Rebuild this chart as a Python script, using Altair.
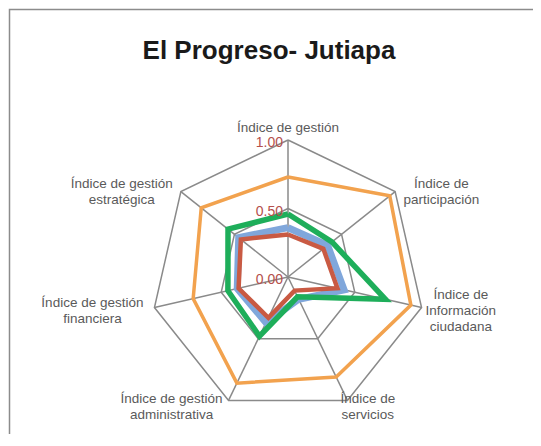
import math
import altair as alt
import pandas as pd

# ---------------- data ----------------
title_text = "El Progreso- Jutiapa"
categories = [
    "Índice de gestión",
    "Índice de participación",
    "Índice de Información ciudadana",
    "Índice de servicios",
    "Índice de gestión administrativa",
    "Índice de gestión financiera",
    "Índice de gestión estratégica",
]
category_labels = [
    "Índice de gestión",
    "Índice de\nparticipación",
    "Índice de\nInformación\nciudadana",
    "Índice de\nservicios",
    "Índice de gestión\nadministrativa",
    "Índice de gestión\nfinanciera",
    "Índice de gestión\nestratégica",
]
series_names = ["Serie naranja", "Serie azul", "Serie roja", "Serie verde"]
orange_values = [0.73, 0.95, 0.92, 0.81, 0.86, 0.71, 0.81]
blue_values = [0.36, 0.37, 0.42, 0.18, 0.37, 0.38, 0.46]
red_values = [0.31, 0.33, 0.37, 0.11, 0.33, 0.37, 0.44]
green_values = [0.46, 0.41, 0.73, 0.16, 0.48, 0.45, 0.56]
tick_values = [0.0, 0.5, 1.0]
tick_labels = ["0.00", "0.50", "1.00"]
grid_levels = [0.5, 1.0]

# ---------------- layout ----------------
W, H = 525, 426
CX, CY, R = 280, 269, 137   # centre (px inside plot) and px per unit
N = len(categories)
LABEL_FS = 13.5
LINE_H = 16
x_dom = [-CX / R, (W - CX) / R]
y_dom = [-(H - CY) / R, CY / R]
xs = alt.Scale(domain=x_dom, range=[0, W], nice=False, zero=False)
ys = alt.Scale(domain=y_dom, range=[H, 0], nice=False, zero=False)

styles = {
    "Serie naranja": ("#F2A24E", 3.5),
    "Serie azul": ("#80A7DB", 7),
    "Serie roja": ("#C95A43", 4.5),
    "Serie verde": ("#1EAE5A", 5.5),
}
values_by_series = dict(zip(series_names, [orange_values, blue_values, red_values, green_values]))

rows = []
for s in series_names:
    vals = values_by_series[s]
    for i in range(N + 1):
        rows.append({"series": s, "idx": i, "value": vals[i % N]})
series_df = pd.DataFrame(rows)

grid_df = pd.DataFrame([{"level": lv, "idx": i} for lv in grid_levels for i in range(N + 1)])
spoke_df = pd.DataFrame({"idx": list(range(N)), "cat": categories})
tick_df = pd.DataFrame({"v": tick_values, "t": tick_labels})

# label anchor offsets derived from angle and estimated text size
lab_rows = []
for i, lab in enumerate(category_labels):
    a = 2 * math.pi * i / N
    s, c = math.sin(a), math.cos(a)
    lines = lab.split("\n")
    hw = max(len(l) for l in lines) * 3.2
    hh = len(lines) * LINE_H / 2
    ox = hw * max(-1, min(1, s / 0.5)) + 6 * s + 8 * min(0, c)
    oy = -c * 4 + 2.5 if abs(s) > 0.1 else -(hh + 4)
    oy -= (len(lines) - 1) * LINE_H / 2   # first-line position for a centred block
    lab_rows.append({"lab": lab, "idx": i, "ox": ox / R, "oy": -oy / R})
label_df = pd.DataFrame(lab_rows)


def polar_chart(df, rcol):
    return alt.Chart(df).transform_calculate(
        ang=f"2*PI*datum.idx/{N}"
    ).transform_calculate(
        px=f"{rcol}*sin(datum.ang)", py=f"{rcol}*cos(datum.ang)", zero="0"
    )


grid = polar_chart(grid_df, "datum.level").mark_line(
    color="#8A8A8A", strokeWidth=1.5
).encode(
    x=alt.X("px:Q", scale=xs, axis=None),
    y=alt.Y("py:Q", scale=ys, axis=None),
    detail="level:N",
    order="idx:Q",
)

spokes = polar_chart(spoke_df, "1").mark_rule(color="#8A8A8A", strokeWidth=1.5).encode(
    x=alt.X("zero:Q", scale=xs, axis=None),
    y=alt.Y("zero:Q", scale=ys, axis=None),
    x2="px:Q",
    y2="py:Q",
)

layers = [grid, spokes]
for s in series_names:
    col, sw = styles[s]
    layers.append(
        polar_chart(series_df, "datum.value").transform_filter(
            alt.datum.series == s
        ).mark_line(color=col, strokeWidth=sw).encode(
            x=alt.X("px:Q", scale=xs, axis=None),
            y=alt.Y("py:Q", scale=ys, axis=None),
            order="idx:Q",
        )
    )

ticks = alt.Chart(tick_df).transform_calculate(zero="0").mark_text(
    align="right", baseline="middle", dx=-5, dy=3, color="#B4504C",
    font="Liberation Sans", fontSize=14,
).encode(
    x=alt.X("zero:Q", scale=xs, axis=None),
    y=alt.Y("v:Q", scale=ys, axis=None),
    text="t:N",
)

labels = alt.Chart(label_df).transform_calculate(
    ang=f"2*PI*datum.idx/{N}"
).transform_calculate(
    lx="sin(datum.ang)+datum.ox", ly="cos(datum.ang)+datum.oy"
).mark_text(
    align="center", baseline="middle", lineBreak="\n", lineHeight=LINE_H,
    color="#5A5A5A", font="Liberation Sans", fontSize=LABEL_FS,
).encode(
    x=alt.X("lx:Q", scale=xs, axis=None),
    y=alt.Y("ly:Q", scale=ys, axis=None),
    text="lab:N",
)

title = alt.Chart(pd.DataFrame({"t": [title_text]})).mark_text(
    align="center", baseline="middle", font="Liberation Sans", fontSize=26,
    fontWeight="bold", color="#1A1A1A",
).encode(x=alt.value(261), y=alt.value(43), text="t:N")

# chart-area frame: only its left and top edges fall inside the window
frame = alt.Chart(pd.DataFrame({"a": [0]})).mark_rect(
    fill="transparent", stroke="#8C8C8C", strokeWidth=1.5
).encode(
    x=alt.value(1.5), x2=alt.value(W + 40),
    y=alt.value(1.5), y2=alt.value(H + 40),
)

chart = alt.layer(
    frame, *layers, ticks, labels, title
).properties(
    width=W, height=H, padding=0, autosize=alt.AutoSizeParams(type="none")
).configure_view(stroke="transparent", strokeWidth=0)

chart.save("out.html", embed_options={"renderer": "svg", "actions": False})
